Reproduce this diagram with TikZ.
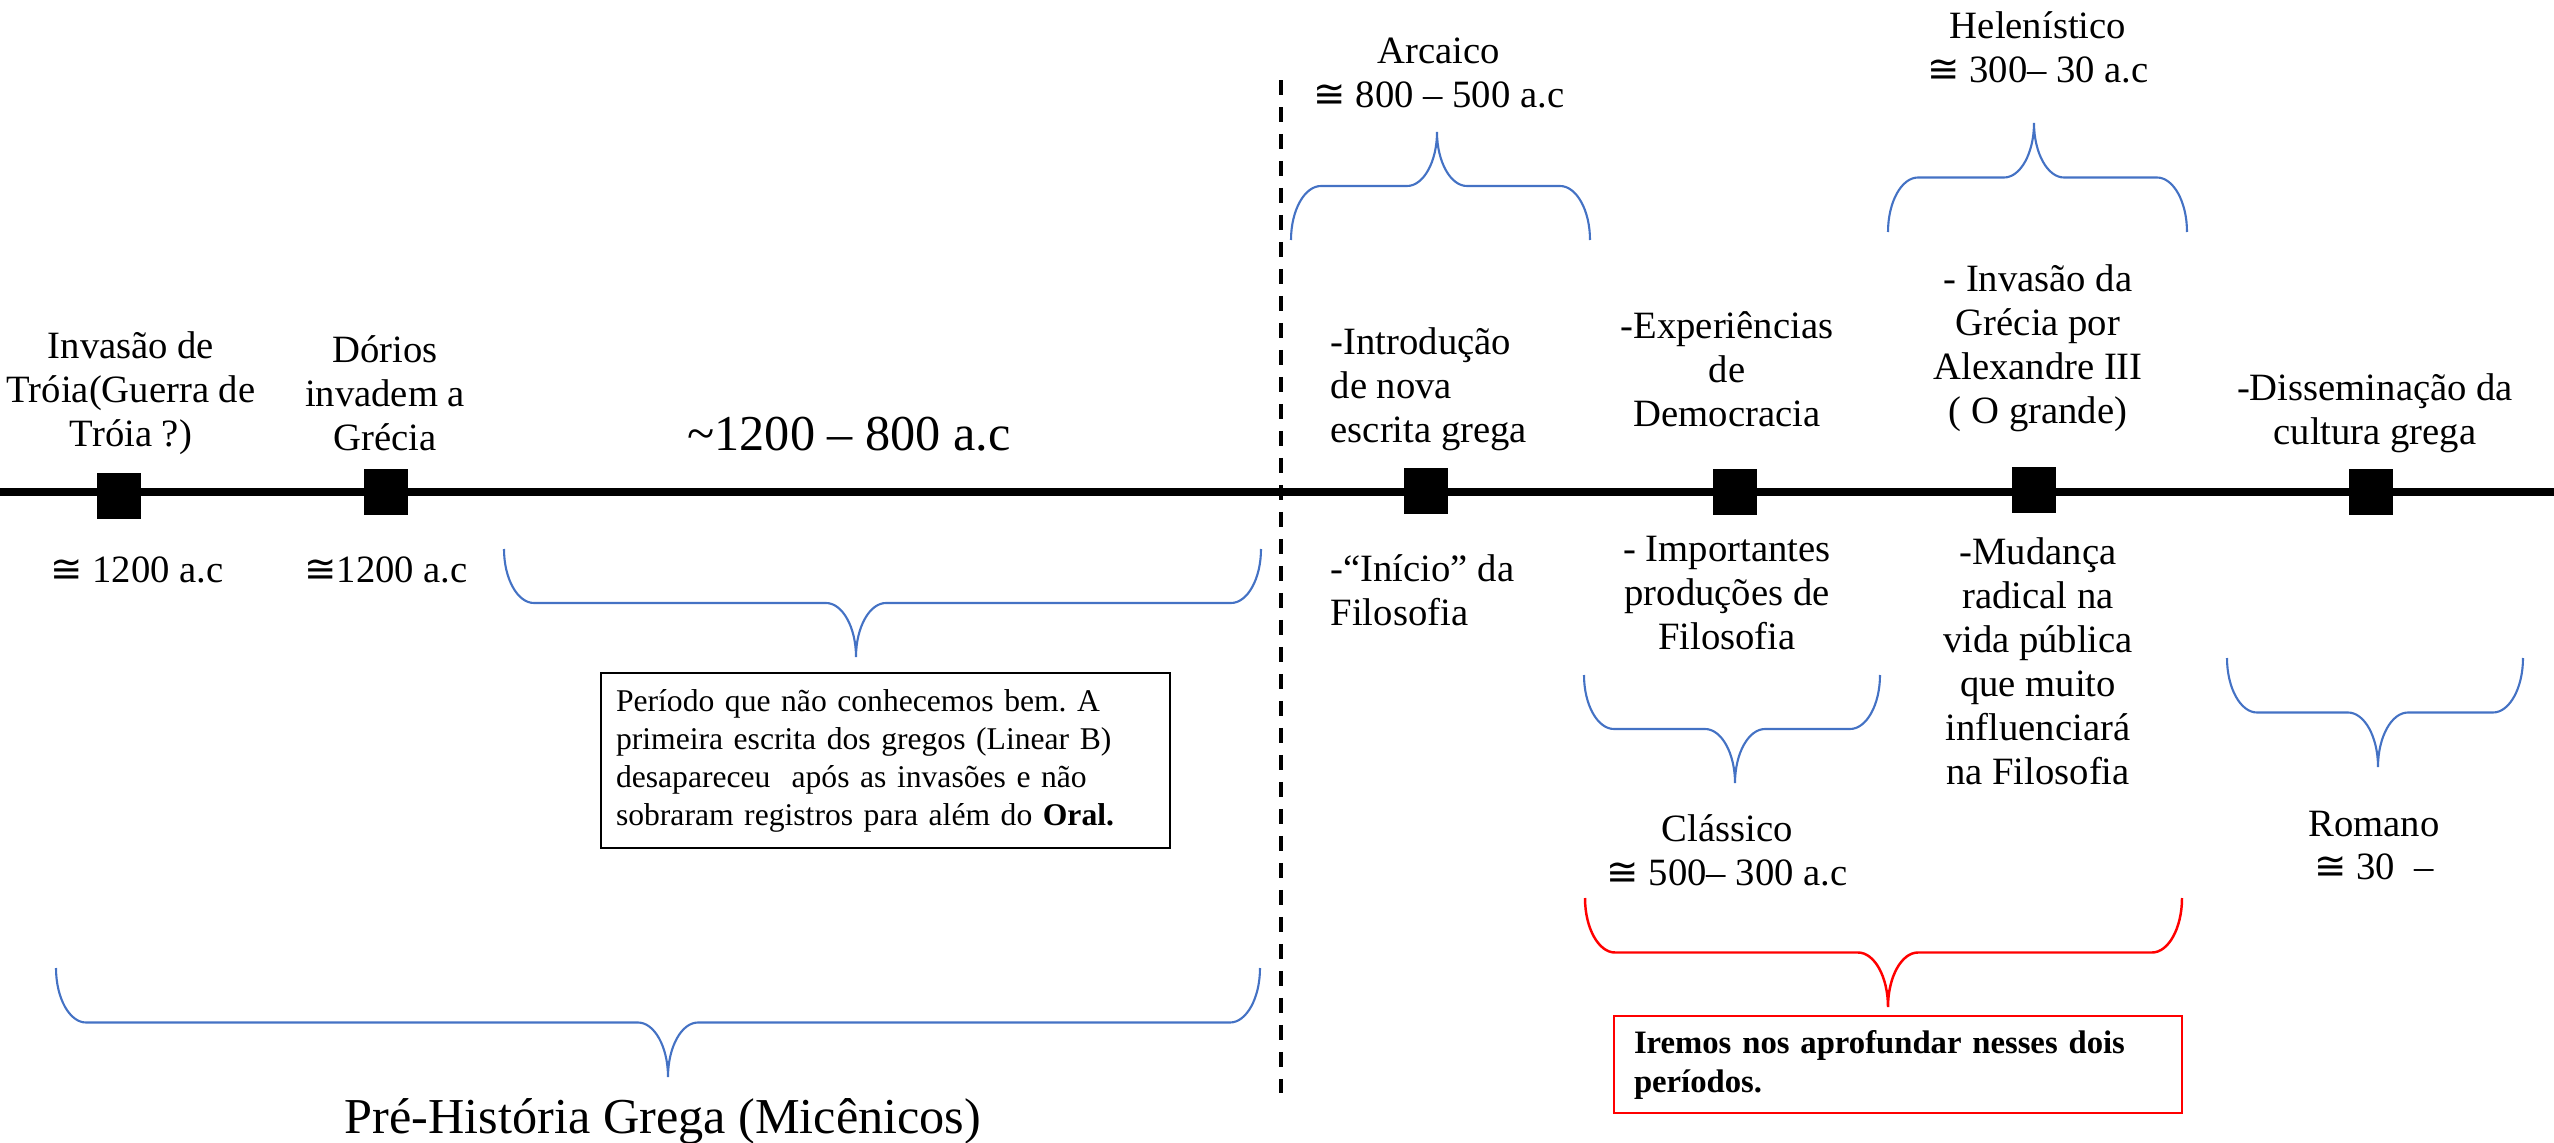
\documentclass[tikz,border=0pt]{standalone}
\usepackage{fontspec}
\setmainfont{Liberation Serif}
\newfontfamily\congfont{DejaVu Sans}
\newcommand{\cg}{{\congfont ≅}}
\usepackage{tikz}
\usetikzlibrary{positioning}
\frenchspacing
\definecolor{braceblue}{RGB}{68,114,196}
\tikzset{
    marker/.style={
    rectangle,fill=black,minimum width=0.44cm,minimum height=0.46cm,inner sep=0pt
    },
    event/.style={
    align=center,inner sep=0pt,font=\fontsize{11}{12.5}\selectfont
    },
    levent/.style={
    align=left,inner sep=0pt,font=\fontsize{11}{12.5}\selectfont
    },
    era/.style={
    inner sep=0pt,font=\fontsize{14.3}{16}\selectfont
    },
    note/.style={
    rectangle,draw=black,line width=0.8pt,align=left,text width=5.39cm,
    inner xsep=0.15cm,minimum height=1.75cm,font=\fontsize{9}{10.8}\selectfont
    },
    rnote/.style={
    rectangle,draw=red,line width=0.8pt,align=left,text width=5.28cm,
    inner xsep=0.2cm,minimum height=0.97cm,font=\fontsize{9.3}{11.1}\selectfont\bfseries
    },
    timeline/.style={line width=0.085cm},
    divider/.style={line width=0.04cm,dash pattern=on 0.15cm off 0.12cm},
    bluebrace/.style={draw=braceblue,line width=0.6pt},
    redbrace/.style={draw=red,line width=0.7pt},
}
\newcommand{\curly}[6]{%
  \draw[#1] (#2,#5) .. controls (#2,{#5+0.55*(#6)}) and ({#2+0.135},{#5+(#6)}) .. ({#2+0.3},{#5+(#6)})
    -- ({#4-0.3},{#5+(#6)})
    .. controls ({#4-0.135},{#5+(#6)}) and (#4,{#5+1.45*(#6)}) .. (#4,{#5+2*(#6)})
    .. controls (#4,{#5+1.45*(#6)}) and ({#4+0.135},{#5+(#6)}) .. ({#4+0.3},{#5+(#6)})
    -- ({#3-0.3},{#5+(#6)})
    .. controls ({#3-0.135},{#5+(#6)}) and (#3,{#5+0.55*(#6)}) .. (#3,#5);
}

\begin{document}
\begin{tikzpicture}
  \useasboundingbox (0,0) rectangle (25.54,-11.43);

  \coordinate (LINEW) at (0,-4.92);
  \coordinate (LINEE) at (25.54,-4.92);
  \coordinate (DIVTOP) at (12.81,-0.80);
  \coordinate (DIVBOT) at (12.81,-10.93);
  \draw[timeline] (LINEW) -- (LINEE);
  \draw[divider] (DIVTOP) -- (DIVBOT);

  \node[marker] (M1) at (1.19,-4.96) {};
  \node[marker] (M2) at (3.86,-4.92) {};
  \node[marker] (M3) at (14.26,-4.905) {};
  \node[marker] (M4) at (17.345,-4.92) {};
  \node[marker] (M5) at (20.335,-4.895) {};
  \node[marker] (M6) at (23.705,-4.92) {};

  \node[event] (TROIA) at (1.31,-3.93) {Invasão de\\Tróia(Guerra de\\Tróia ?)};
  \node[event] (DORIOS) at (3.85,-3.93) {Dórios\\invadem a\\Grécia};
  \node[era,anchor=base] (MICENICO) at (8.49,-4.50) {\textasciitilde1200 – 800 a.c};
  \node[event,anchor=base] (DATA1) at (1.37,-5.82) {\cg{} 1200 a.c};
  \node[event,anchor=base] (DATA2) at (3.86,-5.82) {\cg1200 a.c};
  \node[note] (ORAL) at (8.855,-7.605) {Período que não conhecemos bem. A\\primeira escrita dos gregos (Linear B)\\desapareceu\ \ após as invasões e não\\sobraram registros para além do \textbf{Oral.}};

  \node[event] (ARCAICO) at (14.39,-0.73) {Arcaico\\\cg{} 800 – 500 a.c};
  \node[event] (HELEN) at (20.38,-0.47) {Helenístico\\\cg{} 300– 30 a.c};
  \node[levent,anchor=west] (ESCRITA) at (13.30,-3.89) {-Introdução\\de nova\\escrita grega};
  \node[event] (DEMOCRACIA) at (17.27,-3.69) {-Experiências\\de\\Democracia};
  \node[event] (ALEXANDRE) at (20.38,-3.48) {- Invasão da\\Grécia por\\Alexandre III\\( O grande)};
  \node[event] (CULTURA) at (23.75,-4.13) {-Disseminação da\\cultura grega};
  \node[levent,anchor=west] (INICIO) at (13.30,-5.905) {-“Início” da\\Filosofia};
  \node[event] (PRODUCOES) at (17.27,-5.93) {- Importantes\\produções de\\Filosofia};
  \node[event] (MUDANCA) at (20.38,-6.61) {-Mudança\\radical na\\vida pública\\que muito\\influenciará\\na Filosofia};
  \node[event] (CLASSICO) at (17.27,-8.50) {Clássico\\\cg{} 500– 300 a.c};
  \node[event] (ROMANO) at (23.74,-8.455) {Romano\\\cg{} 30\ \ –};
  \node[rnote] (FOCO) at (18.98,-10.645) {Iremos nos aprofundar nesses dois\\períodos.};
  \node[era,anchor=base] (PREHIST) at (6.63,-11.33) {Pré-História Grega (Micênicos)};

  \curly{bluebrace}{5.04}{12.61}{8.56}{-5.49}{-0.54}
  \curly{bluebrace}{12.91}{15.90}{14.37}{-2.40}{0.54}
  \curly{bluebrace}{18.88}{21.87}{20.34}{-2.32}{0.545}
  \curly{bluebrace}{15.84}{18.80}{17.35}{-6.75}{-0.54}
  \curly{bluebrace}{22.27}{25.23}{23.78}{-6.58}{-0.545}
  \curly{redbrace}{15.85}{21.82}{18.88}{-8.98}{-0.545}
  \curly{bluebrace}{0.56}{12.60}{6.68}{-9.68}{-0.545}

\end{tikzpicture}
\end{document}
